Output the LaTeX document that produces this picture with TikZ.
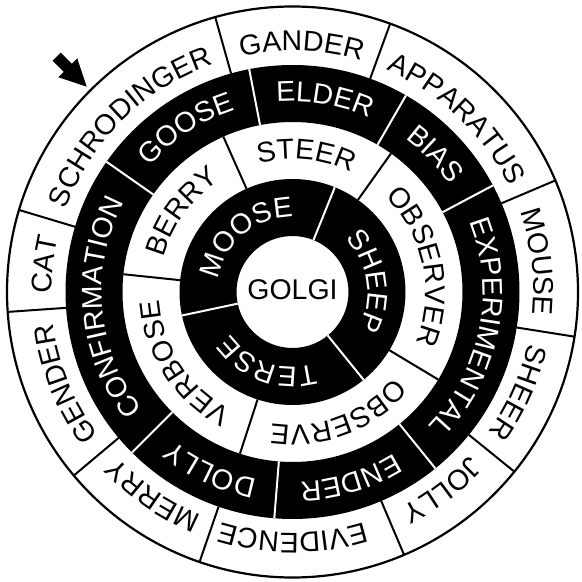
\documentclass[tikz,border=0pt]{standalone}
\usepackage{fontspec}
\setmainfont{Liberation Sans}
\usetikzlibrary{decorations.text}
\newcommand\ringfont{\fontsize{28.5}{31}\selectfont}
\newcommand\ringlabel[4]{%
  \pgfmathsetmacro\ringa{#2+80}%
  \pgfmathsetmacro\ringb{#2-80}%
  \path[decorate, decoration={text along path, text={|\ringfont|#1}, text align=center, text color=#4}]
    (\ringa:#3) arc[start angle=\ringa, end angle=\ringb, radius=#3];%
}
\tikzset{
  blackdiv/.style={draw=black, line width=2pt},
  whitediv/.style={draw=white, line width=2pt},
}
\begin{document}
\begin{tikzpicture}[x=1pt,y=1pt]
\useasboundingbox (0,0) rectangle (582,582);
\fill[white] (0,0) rectangle (582,582);
\begin{scope}[shift={(292.5,290)}]
  % rings
  \draw[line width=2.2pt] (0,0) circle[radius=285.5];
  \fill[black, even odd rule] (0,0) circle[radius=227] (0,0) circle[radius=170];
  \fill[black, even odd rule] (0,0) circle[radius=113] (0,0) circle[radius=56];
  % dividers
  \foreach \a in {105.7,70,23,-9,-39,-67,-109,-140,-176,163.3}
    \draw[blackdiv] (\a:227) -- (\a:286);
  \foreach \a in {145,101,60,28,-51,-94.6,-135}
    \draw[whitediv] (\a:170) -- (\a:227);
  \foreach \a in {174,114,54.6,-31,-108}
    \draw[blackdiv] (\a:113) -- (\a:170);
  \foreach \a in {68,-51,192}
    \draw[whitediv] (\a:56) -- (\a:113);
  % outer ring labels
  \ringlabel{GANDER}{87.85}{241}{black}
  \ringlabel{APPARATUS}{46.5}{241}{black}
  \ringlabel{MOUSE}{7}{241}{black}
  \ringlabel{SHEER}{-24}{241}{black}
  \ringlabel{JOLLY}{-53}{241}{black}
  \ringlabel{EVIDENCE}{-90}{241}{black}
  \ringlabel{MERRY}{-124.5}{241}{black}
  \ringlabel{GENDER}{-158}{241}{black}
  \ringlabel{CAT}{173.65}{241}{black}
  \ringlabel{SCHRODINGER}{134.5}{241}{black}
  % ring 3 labels
  \ringlabel{GOOSE}{123}{190.5}{white}
  \ringlabel{ELDER}{80.5}{190.5}{white}
  \ringlabel{BIAS}{44}{190.5}{white}
  \ringlabel{EXPERIMENTAL}{-11.5}{190.5}{white}
  \ringlabel{ENDER}{-72.8}{190.5}{white}
  \ringlabel{DOLLY}{-114.8}{190.5}{white}
  \ringlabel{CONFIRMATION}{185}{190.5}{white}
  % ring 2 labels
  \ringlabel{BERRY}{144}{133}{black}
  \ringlabel{STEER}{84.3}{133}{black}
  \ringlabel{OBSERVER}{11.8}{133}{black}
  \ringlabel{OBSERVE}{-69.5}{133}{black}
  \ringlabel{VERBOSE}{213}{133}{black}
  % ring 1 labels
  \ringlabel{MOOSE}{130}{75}{white}
  \ringlabel{SHEEP}{8.5}{75}{white}
  \ringlabel{TERSE}{-109.5}{75}{white}
  % centre
  \node[font=\ringfont, inner sep=0pt] (golgi) at (0,2) {GOLGI};
\end{scope}
% arrow
\begin{scope}[shift={(56.7,525.3)}, rotate=-45]
  \fill[black] (0,-5.7) -- (15.7,-5.7) -- (15.7,-13.4) -- (42.4,0) -- (15.7,13.4) -- (15.7,5.7) -- (0,5.7) -- cycle;
\end{scope}
\end{tikzpicture}
\end{document}
